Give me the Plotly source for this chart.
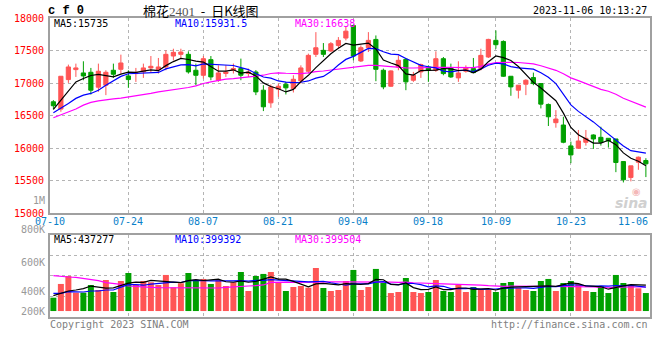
import plotly.graph_objects as go

# ---------------- data ----------------
opens = [16713, 16601, 17054, 17207, 17156, 17166, 16937, 16968, 17197, 17212,
         17110, 17146, 17172, 17233, 17207, 17248, 17416, 17442, 17442, 17197,
         17120, 17360, 17044, 17147, 17197, 17223, 17147, 17171, 16891, 16697,
         16907, 16983, 16917, 17034, 17182, 17442, 17503, 17493, 17579, 17692,
         17885, 17340, 17544, 17671, 17197, 16952, 17248, 17365, 17044, 17172,
         17248, 17197, 17375, 17233, 17080, 17182, 17223, 17223, 17401, 17656,
         17640, 17105, 16891, 16983, 17085, 16993, 16672, 16392, 16356, 16035,
         16000, 16091, 16203, 16167, 16152, 16142, 15795, 15551, 15785, 15811]
highs = [16738, 17105, 17284, 17299, 17335, 17233, 17299, 17197, 17299, 17437,
         17197, 17233, 17299, 17416, 17386, 17503, 17528, 17528, 17488, 17299,
         17416, 17416, 17273, 17274, 17300, 17376, 17223, 17200, 16968, 16978,
         16993, 17019, 17120, 17273, 17452, 17783, 17615, 17630, 17707, 17870,
         17895, 17579, 17783, 17732, 17223, 17197, 17426, 17386, 17172, 17299,
         17273, 17488, 17401, 17299, 17335, 17273, 17386, 17528, 17681, 17809,
         17656, 17105, 16968, 17059, 17161, 16993, 16687, 16585, 16483, 16101,
         16280, 16280, 16213, 16330, 16152, 16142, 15795, 15729, 15872, 15846]
lows = [16596, 16560, 17003, 17095, 17044, 16825, 16866, 16815, 17080, 17146,
        16927, 17018, 17080, 17161, 17146, 17197, 17350, 17386, 17146, 16968,
        17070, 17044, 17019, 17095, 17147, 17044, 17095, 16815, 16570, 16621,
        16789, 16825, 16856, 16993, 17146, 17401, 17401, 17477, 17528, 17656,
        17350, 17324, 17477, 17029, 16906, 16942, 17197, 16891, 17019, 17080,
        17019, 17172, 17120, 17080, 17019, 17160, 17161, 17197, 17386, 17528,
        17095, 16805, 16764, 16815, 16968, 16611, 16341, 16315, 16076, 15770,
        15989, 16040, 15989, 16040, 16010, 15632, 15474, 15490, 15668, 15556]
closes = [16652, 17105, 17248, 17233, 17110, 16891, 17182, 17166, 17136, 17309,
          17054, 17161, 17233, 17258, 17248, 17442, 17472, 17477, 17172, 17120,
          17375, 17095, 17156, 17171, 17223, 17121, 17171, 16865, 16636, 16942,
          16952, 16927, 17059, 17233, 17426, 17543, 17442, 17605, 17656, 17798,
          17416, 17544, 17656, 17212, 16942, 17187, 17350, 17019, 17120, 17284,
          17197, 17375, 17146, 17095, 17156, 17233, 17161, 17426, 17671, 17590,
          17105, 16942, 16968, 17044, 16993, 16677, 16483, 16448, 16091, 15897,
          16111, 16152, 16142, 16091, 16111, 15780, 15515, 15729, 15862, 15760]
volumes = [224000, 454000, 588000, 308000, 308000, 437000, 353000, 521000, 319000, 504000,
           638000, 437000, 504000, 482000, 437000, 605000, 398000, 465000, 638000, 521000,
           538000, 454000, 521000, 420000, 482000, 655000, 336000, 588000, 622000, 655000,
           470000, 336000, 403000, 420000, 392000, 722000, 386000, 336000, 353000, 504000,
           689000, 353000, 403000, 706000, 470000, 302000, 319000, 554000, 319000, 302000,
           319000, 521000, 336000, 319000, 437000, 319000, 403000, 370000, 353000, 319000,
           470000, 487000, 386000, 353000, 336000, 504000, 538000, 336000, 470000, 504000,
           454000, 336000, 319000, 420000, 302000, 605000, 470000, 420000, 381000, 302000]

# moving-average values before enough days exist in the window
ma5_head = [16596, 16739, 16891, 17018]
ma10_head = [16545, 16612, 16688, 16765, 16815, 16841, 16891, 16968, 17034]
ma30_head = [16468, 16509, 16550, 16601, 16662, 16703, 16728, 16749, 16759, 16769,
             16785, 16805, 16815, 16841, 16866, 16881, 16902, 16917, 16932, 16957,
             16994, 17018, 17044, 17060, 17070, 17085, 17095, 17105, 17121]
vma5_head = [258000, 297000, 336000, 353000]
vma10_head = [297000, 297000, 325000, 325000, 319000, 336000, 336000, 353000, 353000]
vma30_head = [593000, 588000, 571000, 565000, 548000, 532000, 509000, 476000, 465000, 448000,
              420000, 409000, 403000, 397000, 392000, 392000, 386000, 381000, 381000, 381000,
              381000, 386000, 386000, 398000, 409000, 409000, 420000, 426000, 437000]

x_tick_idx = [0, 10, 20, 30, 40, 50, 59, 69, 79]
x_tick_labels = ["07-10", "07-24", "08-07", "08-21", "09-04", "09-18", "10-09", "10-23", "11-06"]
price_ticks = [15000, 15500, 16000, 16500, 17000, 17500, 18000]
vol_tick_labels = ["1M", "800K", "600K", "400K", "200K"]

ma_last = {"MA5": "15735", "MA10": "15931.5", "MA30": "16638"}
vma_last = {"MA5": "437277", "MA10": "399392", "MA30": "399504"}

# ---------------- helpers ----------------
def moving_avg(vals, n, head):
    return list(head) + [sum(vals[i - n + 1:i + 1]) / n for i in range(n - 1, len(vals))]

N = len(closes)
idx = list(range(N))
RED = "#ff5555"
GREEN = "#00a000"
MONO = "DejaVu Sans Mono, Liberation Mono, monospace"
GRID = "#b4b4b4"
BORDER = "#a0a0a0"

ma5 = moving_avg(closes, 5, ma5_head)
ma10 = moving_avg(closes, 10, ma10_head)
ma30 = moving_avg(closes, 30, ma30_head)
vma5 = moving_avg(volumes, 5, vma5_head)
vma10 = moving_avg(volumes, 10, vma10_head)
vma30 = moving_avg(volumes, 30, vma30_head)
vol_colors = [RED if c >= o else GREEN for o, c in zip(opens, closes)]

X_RANGE = [-0.45, N - 0.45]
VOL_RANGE = [-100000, 1280000]

fig = go.Figure()
fig.add_trace(go.Candlestick(
    x=idx, open=opens, high=highs, low=lows, close=closes,
    increasing=dict(line=dict(color=RED, width=1), fillcolor=RED),
    decreasing=dict(line=dict(color=GREEN, width=1), fillcolor=GREEN),
    whiskerwidth=0, xaxis="x", yaxis="y", showlegend=False, hoverinfo="skip"))
for series, col in [(ma30, "#ff00ff"), (ma10, "#0000ff"), (ma5, "#000000")]:
    fig.add_trace(go.Scatter(x=idx, y=series, mode="lines", line=dict(color=col, width=1.2),
                             xaxis="x", yaxis="y", showlegend=False, hoverinfo="skip"))
fig.add_trace(go.Bar(x=idx, y=volumes, marker=dict(color=vol_colors, line=dict(width=0)),
                     xaxis="x2", yaxis="y2", showlegend=False, hoverinfo="skip"))
for series, col in [(vma30, "#ff00ff"), (vma10, "#0000ff"), (vma5, "#000000")]:
    fig.add_trace(go.Scatter(x=idx, y=series, mode="lines", line=dict(color=col, width=1.2),
                             xaxis="x2", yaxis="y2", showlegend=False, hoverinfo="skip"))

# geometry of plot area in pixels
W, H = 660, 360
ML, MR, MT, MB = 50, 10, 18, 43
PH = H - MT - MB
def py(ypx):
    return (H - MB - ypx) / PH
def px(xpx):
    return (xpx - ML) / (W - ML - MR)

price_dom = [py(213.3), 1.0]
vol_dom = [0.0, py(234.7)]
vol_grid = [VOL_RANGE[0] + (VOL_RANGE[1] - VOL_RANGE[0]) * k / 4 for k in (1, 2, 3)]

axis_common = dict(showline=True, mirror=True, linecolor=BORDER, linewidth=2,
                   gridcolor=GRID, griddash="dot", gridwidth=1, zeroline=False,
                   ticks="", fixedrange=True, automargin=False)
fig.update_layout(
    width=W, height=H, margin=dict(l=ML, r=MR, t=MT, b=MB, autoexpand=False),
    paper_bgcolor="white", plot_bgcolor="white",
    boxgap=0.2, bargap=0.2,
    xaxis=dict(domain=[0, 1], anchor="y", range=X_RANGE, tickvals=x_tick_idx[1:-1],
               showticklabels=False, showgrid=True, rangeslider=dict(visible=False), **axis_common),
    yaxis=dict(domain=price_dom, anchor="x", range=[price_ticks[0], price_ticks[-1]],
               tickvals=price_ticks, ticktext=[str(t) for t in price_ticks], ticklabelstandoff=2,
               tickfont=dict(family=MONO, size=10, color="#ff0000"), showgrid=True, **axis_common),
    xaxis2=dict(domain=[0, 1], anchor="y2", range=X_RANGE, tickvals=x_tick_idx[1:-1], matches="x",
                showticklabels=False, showgrid=True, **axis_common),
    yaxis2=dict(domain=vol_dom, anchor="x2", range=VOL_RANGE, tickvals=vol_grid,
                showticklabels=False, showgrid=True, **axis_common),
)

ann = []
def add(text, x, y, xanchor="left", size=10, color="#000", family=MONO, xref="paper", **kw):
    ann.append(dict(text=text, x=x, y=y, xref=xref, yref="paper", xanchor=xanchor,
                    yanchor="middle", showarrow=False,
                    font=dict(family=family, size=size, color=color), **kw))

add("<b>c f 0</b>", px(46), py(11), size=12, family="Liberation Mono, DejaVu Sans Mono, monospace")
add("棉花<span style='color:#555555;font-family:Liberation Serif'>2401</span>\u00a0\u00a0-\u00a0\u00a0日K线图",
    px(201), py(10), xanchor="center", size=13, family="Noto Sans CJK SC")
add("2023-11-06 10:13:27", px(649), py(10), xanchor="right", size=10)

ma_x = [px(52), px(173), px(293)]
ma_cols = ["#000000", "#0000ff", "#ff00ff"]
for (k, v), xx, col in zip(ma_last.items(), ma_x, ma_cols):
    add(f"{k}:{v}", xx, py(24), color=col)
for (k, v), xx, col in zip(vma_last.items(), ma_x, ma_cols):
    add(f"{k}:{v}", xx, py(240), color=col)

# date labels under the price panel
for i, (t, lab) in enumerate(zip(x_tick_idx, x_tick_labels)):
    if i == 0:
        add(lab, X_RANGE[0], py(221), xanchor="center", color="#0a7fc9", xref="x")
    elif i == len(x_tick_idx) - 1:
        add(lab, X_RANGE[1], py(221), xanchor="right", color="#0a7fc9", xref="x")
    else:
        add(lab, t, py(221), xanchor="center", color="#0a7fc9", xref="x")

for lab, ypx in zip(vol_tick_labels, [200, 229, 262, 291, 311]):
    add(lab, px(47), py(ypx), xanchor="right", color="#999999")

add("Copyright 2023 SINA.COM", px(48), py(324), color="#808080")
add("http://finance.sina.com.cn", px(650), py(324), xanchor="right", color="#808080")
add("<b><i>sina</i></b>", px(650), py(203), xanchor="right", size=14, color="#d0d0d0",
    family="DejaVu Sans")
add("◉", px(636), py(191), xanchor="center", size=10, color="#f4b8b8", family="DejaVu Sans")

fig.update_layout(annotations=ann)
fig.write_html("out.html", config={"displayModeBar": False},
               post_script="document.body.style.margin='0';document.body.style.overflow='hidden';")
